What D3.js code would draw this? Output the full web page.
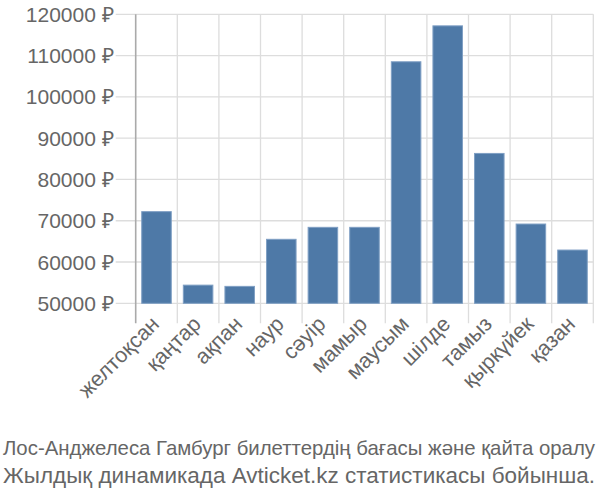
<!DOCTYPE html>
<html>
<head>
<meta charset="utf-8">
<script src="https://cdn.jsdelivr.net/npm/d3@7"></script>
<style>
    body { margin: 0; background: #fff; }
    text { font-family: "Liberation Sans", Arial, sans-serif; fill: #666; }
</style>
</head>
<body>
<div id="chart"></div>
<script>
// months (Kazakh) and ticket prices
const months = ["желтоқсан", "қаңтар", "ақпан", "наур", "сәуір", "мамыр", "маусым", "шілде", "тамыз", "қыркүйек", "қазан"];
const prices = [72200, 54400, 54100, 65500, 68400, 68400, 108500, 117200, 86300, 69200, 62900];
const yTicks = [50000, 60000, 70000, 80000, 90000, 100000, 110000, 120000];
const titleLines = [
    "Лос-Анджелеса Гамбург билеттердің бағасы және қайта оралу",
    "Жылдық динамикада Avticket.kz статистикасы бойынша."
];
const titleSizes = [20.3, 22];

const width = 600, height = 500;
const margin = { top: 14.3, right: 6.7, bottom: 196.7, left: 135.7 };
const innerW = width - margin.left - margin.right;
const innerH = height - margin.top - margin.bottom;

const svg = d3.select("#chart")
    .append("svg")
    .attr("width", width)
    .attr("height", height);

const g = svg.append("g")
    .attr("transform", "translate(" + margin.left + "," + margin.top + ")");

let x = d3.scaleBand()
    .domain(months)
    .range([0, innerW])
    .paddingInner(0.29)
    .paddingOuter(0.145);

let y = d3.scaleLinear()
    .domain([50000, 120000])
    .range([innerH, 0]);

// horizontal grid lines, stick out 20px on the left
g.append("g")
    .selectAll("line")
    .data(yTicks)
    .join("line")
    .attr("x1", -20)
    .attr("x2", innerW)
    .attr("y1", d => y(d))
    .attr("y2", d => y(d))
    .attr("stroke", "#ddd")
    .attr("stroke-width", 1.3);

// vertical grid lines at band edges, stick out 20px below
const edges = d3.range(months.length + 1).map(i => i * x.step());
g.append("g")
    .selectAll("line")
    .data(edges)
    .join("line")
    .attr("x1", d => d)
    .attr("x2", d => d)
    .attr("y1", 0)
    .attr("y2", innerH + 20)
    .attr("stroke", (d, i) => i == 0 ? "#aaa" : "#ddd")
    .attr("stroke-width", (d, i) => i == 0 ? 1.6 : 1.3);

// y labels
g.append("g")
    .selectAll("text")
    .data(yTicks)
    .join("text")
    .attr("x", -22)
    .attr("y", d => y(d))
    .attr("dy", "0.36em")
    .attr("text-anchor", "end")
    .style("font-size", "21px")
    .text(d => d + " ₽");

// bars
g.append("g")
    .selectAll("rect")
    .data(prices)
    .join("rect")
    .attr("x", (d, i) => x(months[i]))
    .attr("width", x.bandwidth())
    .attr("y", d => y(d))
    .attr("height", d => innerH - y(d))
    .attr("fill", "#4e79a7")
    .attr("stroke", "#7f9fc4")
    .attr("stroke-width", 1);

// x labels, rotated
g.append("g")
    .selectAll("text")
    .data(months)
    .join("text")
    .attr("text-anchor", "end")
    .attr("transform", d => "translate(" + (x(d) + x.bandwidth() / 2 + 4) + "," + (innerH + 22) + ") rotate(-45)")
    .style("font-size", "21.5px")
    .text(d => d);

// caption, fitted to the full width like the original
svg.append("g")
    .selectAll("text")
    .data(titleLines)
    .join("text")
    .attr("x", 3)
    .attr("y", (d, i) => 455 + i * 28)
    .attr("textLength", 592)
    .attr("lengthAdjust", "spacingAndGlyphs")
    .style("font-size", (d, i) => titleSizes[i] + "px")
    .text(d => d);
</script>
</body>
</html>
